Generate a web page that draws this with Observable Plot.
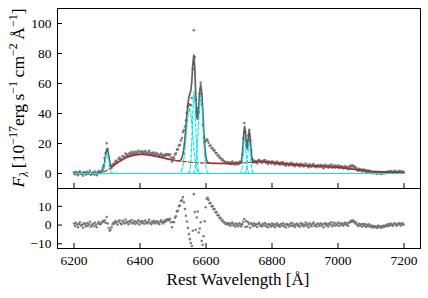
<!DOCTYPE html>
<html><head><meta charset="utf-8">
<script src="https://cdn.jsdelivr.net/npm/d3@7"></script>
<script src="https://cdn.jsdelivr.net/npm/@observablehq/plot@0.6"></script>
<style>
body{margin:0;background:#fff;}
#chart{position:relative;width:428px;height:298px;}
#chart svg{position:absolute;left:0;overflow:visible;}
#chart svg, #chart svg text, #chart svg tspan{font-family:'Liberation Serif','Times New Roman',serif !important;}
</style></head><body><div id="chart"></div>
<script>
// wavelength grid of the observed spectrum (Å)
const waveStart = 6200, waveStep = 3;
// observed flux (10^-17 erg s^-1 cm^-2 Å^-1)
const flux = [
0.8,-0.5,1.2,0.3,-1.1,0.6,1.5,-0.2,0.1,-1.4,0.9,0.4,-0.7,1.1,-0.3,0.5,1.8,-0.9,0.2,0.7,-0.6,1.3,0.0,-1.2,0.8,1.6,0.4,
0.8,2.0,3.8,5.5,10.2,13.6,20.2,16.4,10.6,5.2,3.3,3.9,5.4,6.5,
6.7,8.4,8.2,7.5,9.6,10.7,9.5,9.5,11.6,11.3,10.8,13.3,11.9,12.7,11.6,13.4,13.2,14.5,12.9,13.4,
14.4,13.0,14.3,13.7,15.1,13.0,14.3,14.8,13.7,14.6,13.4,15.0,13.9,13.3,14.1,15.1,13.4,12.6,13.8,13.1,
14.0,12.5,13.1,13.3,12.3,11.4,12.7,13.3,12.1,11.3,12.5,11.8,12.9,12.2,12.8,12.1,12.8,10.7,7.9,
10.6,10.4,12.7,13.4,15.9,16.1,18.6,19.1,22.0,23.6,27.7,28.9,31.3,35.3,40.4,44.5,46.1,45.7,45.6,50.3,
69.6,95.5,77.6,49.2,41.5,43.5,40.8,53.1,60.6,45.9,32.5,23.8,21.0,21.6,22.8,22.0,20.5,18.5,18.7,16.8,
16.9,15.3,15.4,13.6,13.7,12.0,12.0,10.4,10.6,9.1,9.4,8.2,8.1,7.2,
7.2,7.7,6.8,7.5,6.2,7.3,7.9,6.4,7.2,5.8,7.5,6.9,6.2,7.8,7.3,7.3,12.7,23.5,33.6,27.6,
22.1,16.5,25.3,29.1,22.0,15.4,9.6,7.4,8.6,7.5,8.2,6.9,8.6,9.2,7.6,8.2,7.2,8.6,7.8,8.9,
7.2,8.0,6.4,8.0,7.5,6.7,8.1,6.9,7.6,6.0,7.2,7.9,6.4,6.9,5.9,7.3,6.4,7.6,5.9,6.7,
5.1,6.8,6.2,5.4,6.8,5.9,7.2,5.5,6.3,4.9,5.9,6.6,5.3,5.9,4.7,6.6,5.4,6.0,4.7,5.5,
6.7,5.0,5.7,4.1,6.1,5.1,4.5,5.8,6.3,4.6,5.2,4.1,5.7,5.2,4.4,5.8,4.6,5.4,3.5,5.1,
5.8,4.3,5.1,3.8,5.4,4.7,5.9,3.8,4.7,5.5,3.9,5.0,4.2,5.5,3.6,4.8,4.1,4.8,3.4,4.2,
4.9,3.6,4.3,2.9,4.4,5.1,4.6,5.5,4.6,4.9,3.6,3.9,2.7,1.9,3.1,2.1,2.6,1.3,2.7,1.7,
2.4,0.9,2.0,1.1,2.0,0.8,1.3,0.4,1.0,0.1,0.8,0.4,-0.2,1.0,0.2,0.5,-0.3,0.6,0.0,0.8,
0.1,0.6,1.2,0.3,1.4,0.7,1.6,0.9,0.3,1.4,1.8,1.0,0.3,1.4,1.0,1.8,0.4,1.1,1.5,0.8
];
// residuals (data - model)
const resid = [
0.8,-0.5,1.2,0.3,-1.1,0.6,1.5,-0.2,0.1,-1.4,0.9,0.4,-0.7,1.1,-0.3,0.5,1.8,-0.9,0.2,0.7,-0.6,1.3,0.0,-1.2,0.8,1.6,0.4,
0.6,1.4,2.2,1.8,2.6,1.2,4.3,0.8,-1.6,-3.0,-2.4,-1.0,0.5,1.2,
0.9,2.1,1.4,0.2,1.9,2.6,1.0,0.5,2.3,1.6,0.8,2.9,1.2,1.7,0.4,2.0,1.5,2.7,0.9,1.3,
2.2,0.6,1.8,1.1,2.5,0.3,1.6,2.1,1.0,1.9,0.7,2.4,1.4,0.8,1.7,2.8,1.2,0.5,1.9,1.3,
2.3,0.9,1.6,2.0,1.1,0.4,1.8,2.6,1.5,0.9,2.2,1.7,2.9,2.4,3.1,2.6,3.4,1.5,-1.2,
1.6,1.5,3.9,4.7,7.3,7.6,10.1,10.4,12.8,13.2,14.9,12.1,8.6,5.0,1.9,-1.5,-4.8,-7.5,-9.6,-11.2,
-3.0,16.5,7.0,-2.5,4.0,7.2,-4.0,-1.8,1.5,-8.5,-10.5,-6.0,2.0,9.5,14.0,14.5,13.4,11.6,11.8,10.0,
10.1,8.5,8.6,6.8,6.9,5.2,5.3,3.7,3.9,2.4,2.7,1.5,1.5,0.6,
0.6,1.1,0.2,0.9,-0.4,0.7,1.3,-0.2,0.5,-0.9,0.8,0.1,-0.6,1.0,0.3,-0.7,0.5,1.8,3.2,-1.0,
2.1,-0.8,1.5,0.6,-1.4,1.0,0.3,-0.5,0.9,-0.3,0.4,-1.0,0.6,1.2,-0.4,0.2,-0.8,0.7,-0.1,1.1,
-0.6,0.3,-1.2,0.5,0.0,-0.7,0.8,-0.3,0.4,-1.1,0.2,0.9,-0.5,0.1,-0.9,0.6,-0.2,1.0,-0.6,0.3,
-1.3,0.5,0.0,-0.8,0.7,-0.2,1.2,-0.5,0.4,-1.0,0.1,0.8,-0.4,0.3,-0.9,1.1,-0.1,0.6,-0.7,0.2,
1.4,-0.3,0.5,-1.1,0.9,0.0,-0.6,0.7,1.3,-0.4,0.2,-0.9,0.8,0.3,-0.5,1.0,-0.2,0.6,-1.2,0.4,
1.1,-0.3,0.5,-0.8,0.9,0.2,1.5,-0.6,0.3,1.2,-0.4,0.7,0.0,1.3,-0.5,0.8,0.2,1.0,-0.3,0.6,
1.4,0.1,0.9,-0.4,1.2,2.0,1.6,2.6,1.8,2.2,0.9,1.3,0.2,-0.5,0.7,-0.2,0.4,-0.9,0.6,-0.3,
0.5,-1.0,0.2,-0.6,0.4,-0.8,-0.2,-1.1,-0.4,-1.3,-0.6,-0.9,-1.5,-0.3,-1.0,-0.7,-1.4,-0.5,-1.1,-0.2,
-0.9,-0.4,0.3,-0.6,0.5,-0.2,0.8,0.1,-0.5,0.6,1.0,0.2,-0.4,0.7,0.3,1.1,-0.3,0.5,0.9,0.2
];
// total model [wavelength, flux]
const modelFit = [[6200,0],[6270,0],[6278,0.1],[6281,0.24],[6284,0.6],[6287,1.56],[6290,3.7],[6293,7.6],[6296,12.4],[6299,15.9],[6300,16.2],[6302,15.6],[6305,12.2],[6308,8.2],[6311,5.7],[6314,4.85],[6317,4.9],[6320,5.3],[6330,7.0],[6340,8.4],[6350,9.7],[6360,10.8],[6370,11.6],[6380,12.1],[6390,12.5],[6400,12.7],[6410,12.7],[6420,12.5],[6430,12.2],[6440,11.8],[6450,11.4],[6460,10.9],[6470,10.4],[6480,9.9],[6490,9.4],[6500,9.0],[6510,8.6],[6515,8.5],[6518,8.5],[6521,8.7],[6524,9.2],[6527,10.4],[6530,12.8],[6533,16.75],[6536,22.65],[6539,30.3],[6542,38.5],[6545,46.0],[6548,50.9],[6551,53.2],[6554,55.15],[6557,61.5],[6560,72.6],[6563,79.0],[6566,70.55],[6569,51.7],[6572,37.5],[6575,36.25],[6578,44.8],[6581,54.9],[6584,59.1],[6587,54.4],[6590,43.0],[6593,29.75],[6596,18.95],[6599,12.1],[6602,8.8],[6605,7.5],[6608,7.05],[6620,6.8],[6640,6.7],[6660,6.6],[6680,6.6],[6700,6.8],[6704,7.0],[6707,8.0],[6710,12.2],[6713,21.7],[6715,28.3],[6717,31.2],[6719,28.6],[6721,22.7],[6723,17.9],[6725,17.3],[6727,21.1],[6729,26.2],[6731,28.4],[6733,25.9],[6735,20.1],[6737,14.3],[6739,10.3],[6741,8.4],[6743,7.8],[6746,7.72],[6760,8.0],[6770,8.0],[6780,7.8],[6800,7.3],[6850,6.2],[6900,5.3],[6950,4.8],[7000,4.2],[7050,2.7],[7100,1.5],[7150,0.9],[7200,0.6]];
// continuum [wavelength, flux]
const continuum = [[6200,0],[6270,0],[6280,0.2],[6290,1.0],[6300,2.2],[6310,3.6],[6320,5.3],[6330,7.0],[6340,8.4],[6350,9.7],[6360,10.8],[6370,11.6],[6380,12.1],[6390,12.5],[6400,12.7],[6410,12.7],[6420,12.5],[6440,11.8],[6460,10.9],[6480,9.9],[6500,9.0],[6520,8.3],[6540,7.8],[6560,7.4],[6580,7.1],[6600,6.9],[6640,6.7],[6680,6.6],[6700,6.8],[6720,7.2],[6740,7.6],[6760,8.0],[6770,8.0],[6780,7.8],[6800,7.3],[6850,6.2],[6900,5.3],[6950,4.8],[7000,4.2],[7050,2.7],[7100,1.5],[7150,0.9],[7200,0.6]];
// emission-line components [wavelength, flux]
const lineOI = [[6278,0],[6282,0.07],[6285,0.34],[6288,1.3],[6291,3.7],[6294,7.7],[6297,12.1],[6300,14],[6303,12.1],[6306,7.7],[6309,3.7],[6312,1.3],[6315,0.34],[6318,0.07],[6322,0]];
const lineHaBroad = [[6510,0],[6520,0.3],[6525,1.4],[6530,4.8],[6535,12.6],[6540,25.2],[6545,38.3],[6550,44],[6555,38.3],[6560,25.2],[6565,12.6],[6570,4.8],[6575,1.4],[6580,0.3],[6590,0]];
const lineHa = [[6546,0],[6549,0.6],[6552,3.1],[6555,10.9],[6558,26.8],[6561,45.9],[6564,55],[6567,45.9],[6570,26.8],[6573,10.9],[6576,3.1],[6579,0.6],[6582,0]];
const lineNII = [[6560,0],[6563,0.58],[6566,1.9],[6570,7.0],[6573,15.1],[6577,31.5],[6580,44.2],[6584,52],[6588,44.2],[6591,31.5],[6595,15.1],[6598,7.0],[6602,1.9],[6605,0.58],[6610,0]];
const lineSIIa = [[6701,0],[6705,0.27],[6709,3.2],[6711,7.8],[6713,14.6],[6715,21.2],[6717,24],[6719,21.2],[6721,14.6],[6723,7.8],[6725,3.2],[6729,0.27],[6733,0]];
const lineSIIb = [[6715,0],[6719,0.23],[6723,2.8],[6725,6.8],[6727,12.7],[6729,18.5],[6731,21],[6733,18.5],[6735,12.7],[6737,6.8],[6739,2.8],[6743,0.23],[6747,0]];
const baseline = [[6200,0],[7200,0]];
const xTicks = [6200,6400,6600,6800,7000,7200];
const yTicksTop = [0,20,40,60,80,100];
const yTicksBottom = [-10,0,10];

if (flux.length !== resid.length) throw new Error("length mismatch " + flux.length + " vs " + resid.length);

const FONT = "'Liberation Serif','Times New Roman',serif";
const W = 428, ML = 57, MR = 8;
const xDomain = [6150, 7250];
const fmt = d => d < 0 ? "\u2212" + Math.abs(d) : String(d);
const spec = flux.map((f, i) => ({w: waveStart + waveStep * i, f, r: resid[i]}));
const comps = [
  ["OI", lineOI], ["HaB", lineHaBroad], ["Ha", lineHa], ["NII", lineNII], ["SIIa", lineSIIa], ["SIIb", lineSIIb]
].flatMap(([name, arr]) => arr.map(([w, f]) => ({name, w, f})));
const CYAN = "#00e8e8";
const plotStyle = {fontFamily: FONT, fontSize: "13px", color: "#000", background: "transparent", overflow: "visible"};

const topPlot = Plot.plot({
  width: W, height: 188, marginTop: 8, marginBottom: 0, marginLeft: ML, marginRight: MR,
  style: plotStyle,
  x: {domain: xDomain, axis: null},
  y: {domain: [-10, 110], axis: null},
  marks: [
    Plot.dot(spec, {x: "w", y: "f", r: 1.3, fill: "#6a6a6a", fillOpacity: 0.85, stroke: null, clip: true}),
    Plot.line(modelFit, {x: d => d[0], y: d => d[1], stroke: "#505050", strokeWidth: 1.7, strokeOpacity: 0.9}),
    Plot.line(continuum, {x: d => d[0], y: d => d[1], stroke: "#e01010", strokeWidth: 1.1, strokeDasharray: "4,2"}),
    Plot.line(baseline, {x: d => d[0], y: d => d[1], stroke: CYAN, strokeWidth: 1.2}),
    Plot.line(comps, {x: "w", y: "f", z: "name", stroke: CYAN, strokeWidth: 1.1, strokeDasharray: "3.5,2"}),
    Plot.axisX(xTicks, {anchor: "bottom", tickSize: -5, tickFormat: () => "", label: null}),
    Plot.axisY(yTicksTop, {anchor: "left", tickSize: -5, tickFormat: () => "", label: null}),
    Plot.axisY(yTicksTop, {anchor: "left", tickSize: 0, tickPadding: 6, tickFormat: fmt, label: null, fontSize: 13.5}),
    Plot.frame({stroke: "#000", strokeWidth: 1})
  ]
});

const bottomPlot = Plot.plot({
  width: W, height: 110, marginTop: 0, marginBottom: 50, marginLeft: ML, marginRight: MR,
  style: plotStyle,
  x: {domain: xDomain, axis: null},
  y: {domain: [-12.5, 19.5], axis: null},
  marks: [
    Plot.dot(spec, {x: "w", y: "r", r: 1.3, fill: "#6a6a6a", fillOpacity: 0.85, stroke: null, clip: true}),
    Plot.axisX(xTicks, {anchor: "bottom", tickSize: -5, tickFormat: () => "", label: null}),
    Plot.axisX(xTicks, {anchor: "bottom", tickSize: 0, tickPadding: 7, tickFormat: d => String(d), label: null, fontSize: 13.5}),
    Plot.axisY(yTicksBottom, {anchor: "left", tickSize: -5, tickFormat: () => "", label: null}),
    Plot.axisY(yTicksBottom, {anchor: "left", tickSize: 0, tickPadding: 6, tickFormat: fmt, label: null, fontSize: 13.5}),
    Plot.frame({stroke: "#000", strokeWidth: 1})
  ]
});

const chart = document.getElementById("chart");
topPlot.style.top = "0px";
bottomPlot.style.top = "188px";
chart.appendChild(topPlot);
chart.appendChild(bottomPlot);

// y-axis label with sub/superscripts
const yl = d3.select(topPlot).append("text")
  .attr("transform", "translate(24,98) rotate(-90)")
  .attr("text-anchor", "middle")
  .style("font-family", FONT)
  .attr("font-size", 17.5)
  .attr("fill", "#000");
const SUP = 12;
yl.append("tspan").attr("font-style", "italic").text("F");
yl.append("tspan").attr("font-style", "italic").attr("font-size", SUP).attr("dy", 4).text("\u03bb");
yl.append("tspan").attr("dy", -4).text("\u2009[10");
yl.append("tspan").attr("font-size", SUP).attr("dy", -7).text("\u221217");
yl.append("tspan").attr("dy", 7).text("erg\u2009s");
yl.append("tspan").attr("font-size", SUP).attr("dy", -7).text("\u22121");
yl.append("tspan").attr("dy", 7).text("\u2009cm");
yl.append("tspan").attr("font-size", SUP).attr("dy", -7).text("\u22122");
yl.append("tspan").attr("dy", 7).text("\u2009\u00c5");
yl.append("tspan").attr("font-size", SUP).attr("dy", -7).text("\u22121");
yl.append("tspan").attr("dy", 7).text("]");

// x-axis label
d3.select(bottomPlot).append("text")
  .attr("x", 238).attr("y", 97)
  .attr("text-anchor", "middle")
  .style("font-family", FONT)
  .attr("font-size", 17)
  .attr("fill", "#000")
  .text("Rest Wavelength [\u00c5]");
</script>
</body></html>
